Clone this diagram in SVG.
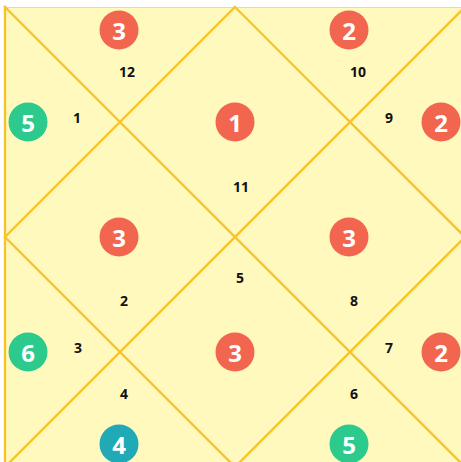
<svg xmlns="http://www.w3.org/2000/svg" width="461" height="462" viewBox="0 0 461 462">
<style>
.ln{stroke:#F8C42C;stroke-width:2.4;fill:none;stroke-linecap:square}
.h{font-family:"Open Sans","Liberation Sans",sans-serif;font-weight:700;font-size:14px;fill:#111;text-anchor:middle;dominant-baseline:central}
.p{font-family:"Open Sans","Liberation Sans",sans-serif;font-weight:700;font-size:24px;fill:#fff;text-anchor:middle;dominant-baseline:central}
.r{fill:#F26650}.g{fill:#2DCA8E}.t{fill:#1FAAB6}
</style>
<rect width="461" height="462" fill="#fff"/>
<rect x="5" y="7" width="460" height="460" fill="#FFF9BE"/>
<g id="connectors">
<line x1="5" y1="7.5" x2="465" y2="7.5" stroke="#FFD964" stroke-width="1"/>
<line class="ln" x1="5" y1="7" x2="5" y2="467"/>
<line class="ln" x1="5" y1="7" x2="465" y2="467"/>
<line class="ln" x1="465" y1="7" x2="5" y2="467"/>
<polygon class="ln" points="235,7 465,237 235,467 5,237"/>
</g>
<g id="houses">
<text class="h" x="127" y="71">12</text>
<text class="h" x="358" y="71">10</text>
<text class="h" x="77" y="117">1</text>
<text class="h" x="389" y="117">9</text>
<text class="h" x="241" y="186">11</text>
<text class="h" x="240" y="277">5</text>
<text class="h" x="124" y="300">2</text>
<text class="h" x="354" y="300">8</text>
<text class="h" x="78" y="347">3</text>
<text class="h" x="389" y="347">7</text>
<text class="h" x="124" y="393">4</text>
<text class="h" x="354" y="393">6</text>
</g>
<g id="p1"><circle class="r" cx="119" cy="30" r="19.5"/><text class="p" x="119" y="30">3</text></g>
<g id="p2"><circle class="r" cx="349" cy="30" r="19.5"/><text class="p" x="349" y="30">2</text></g>
<g id="p3"><circle class="g" cx="28" cy="122" r="19.5"/><text class="p" x="28" y="122">5</text></g>
<g id="p4"><circle class="r" cx="235" cy="122" r="19.5"/><text class="p" x="235" y="122">1</text></g>
<g id="p5"><circle class="r" cx="441" cy="122" r="19.5"/><text class="p" x="441" y="122">2</text></g>
<g id="p6"><circle class="r" cx="119" cy="237" r="19.5"/><text class="p" x="119" y="237">3</text></g>
<g id="p7"><circle class="r" cx="349" cy="237" r="19.5"/><text class="p" x="349" y="237">3</text></g>
<g id="p8"><circle class="g" cx="28" cy="352" r="19.5"/><text class="p" x="28" y="352">6</text></g>
<g id="p9"><circle class="r" cx="235" cy="352" r="19.5"/><text class="p" x="235" y="352">3</text></g>
<g id="p10"><circle class="r" cx="441" cy="352" r="19.5"/><text class="p" x="441" y="352">2</text></g>
<g id="p11"><circle class="t" cx="119" cy="444" r="19.5"/><text class="p" x="119" y="444">4</text></g>
<g id="p12"><circle class="g" cx="349" cy="444" r="19.5"/><text class="p" x="349" y="444">5</text></g>
</svg>
